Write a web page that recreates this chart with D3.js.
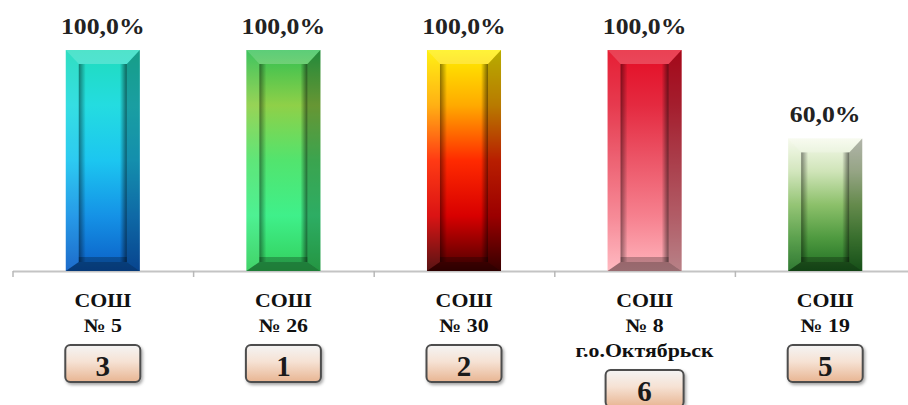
<!DOCTYPE html>
<html>
<head>
<meta charset="utf-8">
<script src="https://cdn.jsdelivr.net/npm/d3@7"></script>
<style>
  body { margin: 0; background: #fff; }
  svg { display: block; }
  .pct { font-family: "Liberation Serif", "Times New Roman", serif; font-weight: bold; font-size: 23px; fill: #222; }
  .cat { font-family: "Liberation Serif", "Times New Roman", serif; font-weight: bold; font-size: 19px; fill: #111; }
  .rank { font-family: "Liberation Serif", "Times New Roman", serif; font-weight: bold; font-size: 29px; fill: #1a1a1a; }
</style>
</head>
<body>
<div id="chart"></div>
<script>
var width = 908,
    height = 405;

// data
var schools = ["СОШ|№ 5", "СОШ|№ 26", "СОШ|№ 30", "СОШ|№ 8|г.о.Октябрьск", "СОШ|№ 19"];
var values = [1.0, 1.0, 1.0, 1.0, 0.6];
var ranks = ["3", "1", "2", "6", "5"];
var barColors = [
  ["#1fdcbc", "#24dce0", "#1cc6f0", "#1592e6", "#0b5fc6"],
  ["#2fbf52", "#8fd048", "#52e46e", "#3ff08a", "#33cf5c"],
  ["#fff000", "#ffaa00", "#ff2a00", "#d80000", "#4a0000"],
  ["#e40c24", "#e42a40", "#ec5668", "#f6808e", "#ffb4bc"],
  ["#f6faec", "#cfe4b8", "#8cc06a", "#4f9a40", "#1f6e22"]
];

var x = d3.scaleBand()
    .domain(schools)
    .range([12.5, 915.5])
    .paddingInner(0.59)
    .paddingOuter(0.295);

var y = d3.scaleLinear()
    .domain([0, 1])
    .range([271, 50]);

var svg = d3.select("#chart").append("svg")
    .attr("width", width)
    .attr("height", height);

var defs = svg.append("defs");

barColors.forEach(function(c, i) {
  var g = defs.append("linearGradient")
      .attr("id", "bar" + i)
      .attr("x1", 0).attr("y1", 0).attr("x2", 0).attr("y2", 1);
  c.forEach(function(col, j) {
    g.append("stop").attr("offset", j / (c.length - 1)).attr("stop-color", col);
  });
});

// dark strips along the inner edges
var edgeL = defs.append("linearGradient").attr("id", "edgeL").attr("x1", 0).attr("x2", 1);
edgeL.append("stop").attr("offset", 0).attr("stop-color", "#000").attr("stop-opacity", 0.45);
edgeL.append("stop").attr("offset", 1).attr("stop-color", "#000").attr("stop-opacity", 0);
var edgeR = defs.append("linearGradient").attr("id", "edgeR").attr("x1", 1).attr("x2", 0);
edgeR.append("stop").attr("offset", 0).attr("stop-color", "#000").attr("stop-opacity", 0.55);
edgeR.append("stop").attr("offset", 1).attr("stop-color", "#000").attr("stop-opacity", 0);

var badge = defs.append("linearGradient").attr("id", "badge").attr("x1", 0).attr("y1", 0).attr("x2", 0).attr("y2", 1);
badge.append("stop").attr("offset", 0).attr("stop-color", "#f4f4f4");
badge.append("stop").attr("offset", 0.45).attr("stop-color", "#f6e2d4");
badge.append("stop").attr("offset", 1).attr("stop-color", "#e8b592");

var shadow = defs.append("filter").attr("id", "shadow")
    .attr("x", "-20%").attr("y", "-20%").attr("width", "140%").attr("height", "150%");
shadow.append("feDropShadow").attr("dx", 1.5).attr("dy", 2).attr("stdDeviation", 1.5)
    .attr("flood-color", "#000").attr("flood-opacity", 0.35);

// axis
var edges = d3.scaleLinear().domain([0, schools.length]).range(x.range());
svg.append("g")
    .attr("transform", "translate(0," + y(0) + ")")
    .call(d3.axisBottom(edges).tickValues(d3.range(schools.length + 1)).tickFormat("").tickSize(6).tickSizeOuter(0))
    .call(function(g) {
      g.select(".domain").attr("stroke", "#c4c4c4").attr("stroke-width", 2);
      g.selectAll(".tick line").attr("stroke", "#b8b8b8").attr("stroke-width", 1.5);
    });

// bars
var bars = svg.append("g").selectAll(".bar")
  .data(schools)
  .enter().append("g")
    .attr("class", "bar");

bars.each(function(d, i) {
  var g = d3.select(this),
      x0 = x(d), w = x.bandwidth(),
      y0 = y(values[i]), y1 = y(0),
      sl = 13, sr = 13, st = 14, sb = 9;

  g.append("rect")
      .attr("x", x0).attr("y", y0).attr("width", w).attr("height", y1 - y0)
      .attr("fill", "url(#bar" + i + ")");

  function poly(pts, fill, op) {
    g.append("polygon")
        .attr("points", pts.map(function(p) { return p.join(","); }).join(" "))
        .attr("fill", fill).attr("fill-opacity", op);
  }
  // top bevel
  poly([[x0, y0], [x0 + w, y0], [x0 + w - sr, y0 + st], [x0 + sl, y0 + st]], "#fff", 0.22);
  // left bevel
  poly([[x0, y0], [x0 + sl, y0 + st], [x0 + sl, y1 - sb], [x0, y1]], "#fff", 0.08);
  // right bevel
  poly([[x0 + w, y0], [x0 + w, y1], [x0 + w - sr, y1 - sb], [x0 + w - sr, y0 + st]], "#000", 0.28);
  // bottom bevel
  poly([[x0, y1], [x0 + w, y1], [x0 + w - sr, y1 - sb], [x0 + sl, y1 - sb]], "#000", 0.4);

  // inner shading
  g.append("rect")
      .attr("x", x0 + sl).attr("y", y0 + st).attr("width", 7).attr("height", y1 - sb - y0 - st)
      .attr("fill", "url(#edgeL)");
  g.append("rect")
      .attr("x", x0 + w - sr - 7).attr("y", y0 + st).attr("width", 7).attr("height", y1 - sb - y0 - st)
      .attr("fill", "url(#edgeR)");
  g.append("rect")
      .attr("x", x0 + sl).attr("y", y1 - sb - 5).attr("width", w - sl - sr).attr("height", 5)
      .attr("fill", "#000").attr("fill-opacity", 0.25);

  // value label
  g.append("text")
      .attr("class", "pct")
      .attr("text-anchor", "middle")
      .attr("transform", "translate(" + (x0 + w / 2) + "," + (y0 - 16) + ") scale(1.12,1)")
      .text(d3.format(".1f")(values[i] * 100).replace(".", ",") + "%");
});

// category labels and rank badges
var labels = svg.append("g").selectAll(".label")
  .data(schools)
  .enter().append("g")
    .attr("class", "label")
    .attr("transform", function(d) { return "translate(" + (x(d) + x.bandwidth() / 2) + ",0)"; });

labels.each(function(d, i) {
  var g = d3.select(this),
      lines = d.split("|");

  lines.forEach(function(t, j) {
    g.append("text")
        .attr("class", "cat")
        .attr("text-anchor", "middle")
        .attr("transform", "translate(0," + (307 + 25 * j) + ") scale(1.15,1)")
        .text(t);
  });

  var top = 307 + 25 * (lines.length - 1) + 13,
      bw = lines.length > 2 ? 78 : 75;

  g.append("rect")
      .attr("x", -bw / 2).attr("y", top)
      .attr("width", bw).attr("height", 37)
      .attr("rx", 5)
      .attr("fill", "url(#badge)")
      .attr("stroke", "#4d4d4d")
      .attr("stroke-width", 2)
      .attr("filter", "url(#shadow)");

  g.append("text")
      .attr("class", "rank")
      .attr("text-anchor", "middle")
      .attr("x", 0)
      .attr("y", top + 31)
      .text(ranks[i]);
});
</script>
</body>
</html>
